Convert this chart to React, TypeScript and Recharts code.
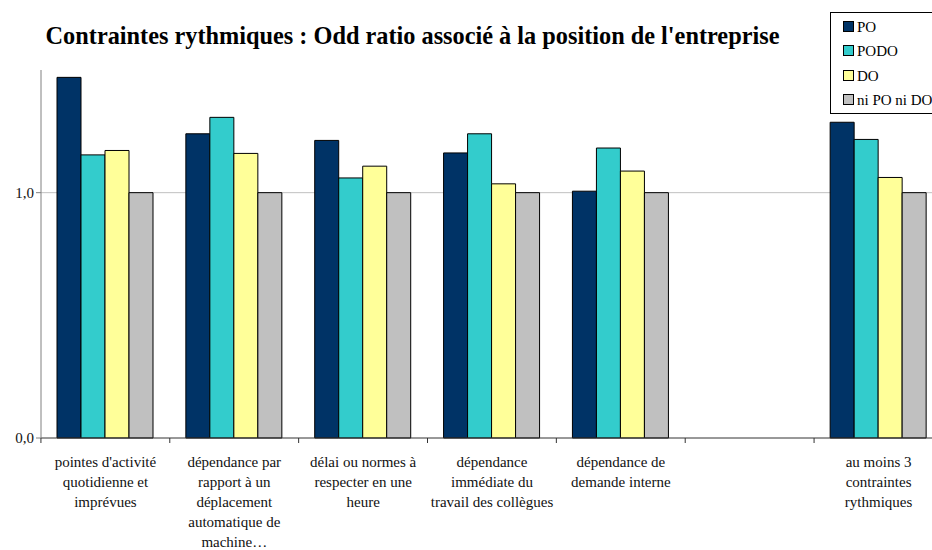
import React from "react";
import { BarChart, Bar, XAxis, YAxis, CartesianGrid } from "recharts";

const categories = [
  "pointes d'activité\nquotidienne et\nimprévues",
  "dépendance par\nrapport à un\ndéplacement\nautomatique de\nmachine…",
  "délai ou normes à\nrespecter en une\nheure",
  "dépendance\nimmédiate du\ntravail des collègues",
  "dépendance de\ndemande interne",
  "",
  "au moins 3\ncontraintes\nrythmiques",
];

const po = [1.47, 1.24, 1.213, 1.162, 1.006, null, 1.287];
const podo = [1.154, 1.307, 1.06, 1.24, 1.182, null, 1.217];
const dOnly = [1.172, 1.16, 1.108, 1.036, 1.088, null, 1.062];
const niPoNiDo = [1.0, 1.0, 1.0, 1.0, 1.0, null, 1.0];

const yTicks = [0, 1];

const series = [
  { key: "PO", color: "#003366" },
  { key: "PODO", color: "#33CCCC" },
  { key: "DO", color: "#FFFF99" },
  { key: "ni PO ni DO", color: "#C0C0C0" },
];

const data = categories.map((name, i) => ({
  name,
  PO: po[i],
  PODO: podo[i],
  DO: dOnly[i],
  "ni PO ni DO": niPoNiDo[i],
}));

const FONT = "'Liberation Serif', 'Times New Roman', serif";
const BAND = 129;

function CategoryTick(props: any) {
  const { x, y, payload, index } = props;
  const lines = String(payload.value).split("\n");
  return (
    <g>
      <line x1={x - BAND / 2} y1={y} x2={x - BAND / 2} y2={y + 5} stroke="#333" />
      {index === categories.length - 1 && (
        <line x1={x + BAND / 2} y1={y} x2={x + BAND / 2} y2={y + 5} stroke="#333" />
      )}
      <text
        x={x}
        y={y + 29}
        textAnchor="middle"
        style={{ fontFamily: FONT, fontSize: 15 }}
        fill="#111"
      >
        {lines.map((l, k) => (
          <tspan key={k} x={x} dy={k === 0 ? 0 : 20}>
            {l}
          </tspan>
        ))}
      </text>
    </g>
  );
}

// légende à la main, placée comme dans Excel (en haut à droite, coupée par le bord)
function LegendBox() {
  return (
    <div
      style={{
        position: "absolute",
        left: 830,
        top: 12,
        width: 140,
        height: 102,
        boxSizing: "border-box",
        border: "1px solid #000",
        background: "#fff",
        fontFamily: FONT,
        fontSize: 15,
        color: "#000",
      }}
    >
      {series.map((s, i) => (
        <div
          key={s.key}
          style={{
            position: "absolute",
            left: 12,
            top: 6 + i * 24.3,
            display: "flex",
            alignItems: "baseline",
            lineHeight: "17px",
          }}
        >
          <span
            style={{
              display: "inline-block",
              width: 11,
              height: 11,
              boxSizing: "border-box",
              background: s.color,
              border: "1px solid #000",
              marginRight: 3,
            }}
          />
          <span style={{ whiteSpace: "nowrap" }}>{s.key}</span>
        </div>
      ))}
    </div>
  );
}

export default function App() {
  return (
    <div
      style={{
        position: "absolute",
        left: 0,
        top: 0,
        width: 932,
        height: 550,
        overflow: "hidden",
        background: "#fff",
        fontFamily: FONT,
      }}
    >
      <div
        style={{
          position: "absolute",
          left: 0,
          top: 22,
          width: 825,
          textAlign: "center",
          fontFamily: FONT,
          fontWeight: "bold",
          fontSize: 24.3,
          color: "#000",
        }}
      >
        Contraintes rythmiques : Odd ratio associé à la position de l'entreprise
      </div>
      <BarChart
        width={950}
        height={550}
        data={data}
        margin={{ top: 70, right: 7, bottom: 0, left: 0 }}
        barCategoryGap={16}
        barGap={0}
      >
        <CartesianGrid vertical={false} horizontalValues={[1]} stroke="#c0c0c0" />
        <XAxis
          dataKey="name"
          height={112}
          interval={0}
          tickLine={false}
          tickSize={0}
          tickMargin={0}
          axisLine={{ stroke: "#333" }}
          tick={<CategoryTick />}
        />
        <YAxis
          width={41}
          domain={[0, 1.5]}
          ticks={yTicks}
          tickSize={5}
          axisLine={{ stroke: "#808080" }}
          tickLine={{ stroke: "#808080" }}
          tickFormatter={(v: number) => v.toFixed(1).replace(".", ",")}
          tick={{ fontSize: 15, fill: "#111", style: { fontFamily: FONT } }}
        />
        {series.map((s) => (
          <Bar
            key={s.key}
            dataKey={s.key}
            fill={s.color}
            stroke="#000"
            strokeWidth={1}
            isAnimationActive={false}
          />
        ))}
      </BarChart>
      <LegendBox />
    </div>
  );
}
